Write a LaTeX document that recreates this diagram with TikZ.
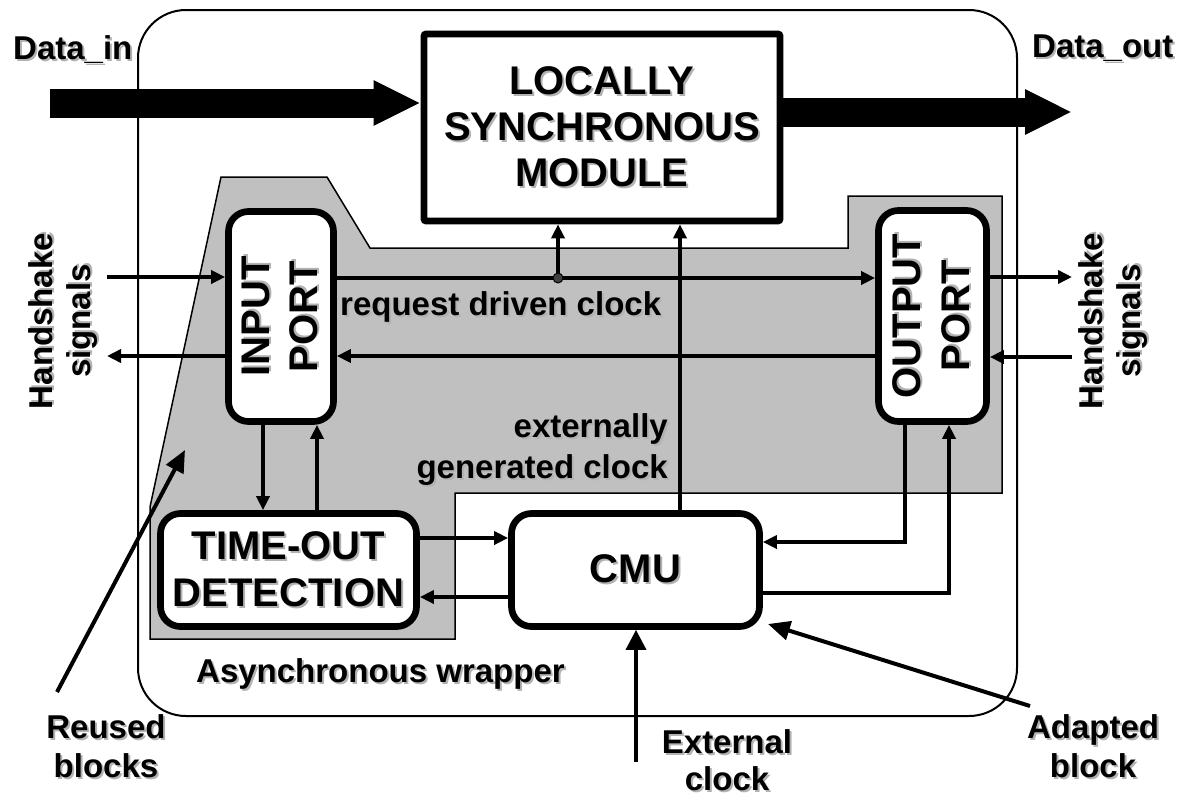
\documentclass[tikz,border=0pt]{standalone}
\usepackage{fontspec}
\setmainfont{Liberation Sans}
\usetikzlibrary{arrows.meta}
\definecolor{silver}{RGB}{192,192,192}
\newcommand\bigf{\fontsize{40}{46}\selectfont\bfseries}
\newcommand\labf{\fontsize{33}{39}\selectfont\bfseries}
\newcommand\shd[1]{\rlap{\kern2pt\raisebox{-2pt}{\textcolor{black!30}{#1}}}#1}
\newcommand\stkc[1]{\vbox{\halign{\hfil##\hfil\cr#1\crcr}}}
\newcommand\stkt[1]{\vtop{\halign{\hfil##\hfil\cr#1\crcr}}}
\newcommand\stkr[1]{\vtop{\halign{\hfil##\cr#1\crcr}}}
\begin{document}
\begin{tikzpicture}[x=1pt,y=-1pt,
  box/.style={draw, line width=6.7pt, fill=white, inner sep=0pt, font=\bigf},
  rbox/.style={box, rounded corners=20pt},
  conn/.style={line width=3.5pt, -{Triangle[length=14pt,width=13pt]}},
  conntip/.style={line width=3.5pt, -{Triangle[length=20pt,width=20pt]}},
  pointer/.style={line width=4pt, -{Triangle[length=22pt,width=19pt]}},
  bigarrow/.style={line width=29pt, -{Triangle[length=47pt,width=42pt]}},
  lbl/.style={font=\labf, inner sep=0pt},
]
\useasboundingbox (0,0) rectangle (1185,798);
% wrapper and gray region
\draw[line width=2pt, rounded corners=48pt] (138,10) rectangle (1017,716);
\filldraw[fill=silver, draw=black, line width=1.5pt]
  (221,177) -- (327,177) -- (370,248) -- (848,248) -- (848,196) -- (1002,196)
  -- (1002,493) -- (455,493) -- (455,639) -- (150,639) -- (150,507) -- cycle;

% blocks
\node[box, rounded corners=2pt, minimum width=356pt, minimum height=187pt] (lsm) at (602,127.5)
  {\stkc{\shd{LOCALLY}\cr\shd{SYNCHRONOUS}\cr\shd{MODULE}}};
\node[rbox, minimum width=105pt, minimum height=210pt] (ip) at (281,316.5)
  {\rotatebox{90}{\fontsize{40}{48}\selectfont\stkc{\shd{INPUT}\cr\shd{PORT}}}};
\node[rbox, minimum width=108pt, minimum height=211pt] (op) at (932.5,316)
  {\rotatebox{90}{\fontsize{40}{49}\selectfont\stkc{\shd{OUTPUT}\cr\shd{PORT}}}};
\node[rbox, minimum width=256pt, minimum height=113pt] (to) at (288.5,570)
  {\fontsize{40}{47}\selectfont\stkc{\shd{TIME-OUT}\cr\shd{DETECTION}}};
\node[rbox, minimum width=248pt, minimum height=113pt] (cmu) at (635.5,570)
  {\shd{CMU}};

% labels
\node[lbl, anchor=base west] (tdin) at (13,59) {\shd{Data\_in}};
\node[lbl, anchor=base west] (tdout) at (1032,57) {\shd{Data\_out}};
\node[lbl, anchor=base west] (trdc) at (340,315) {\shd{request driven clock}};
\node[lbl, anchor=base east] (tegc) at (668,437)
  {\fontsize{33}{41}\selectfont\stkr{\shd{externally}\cr\shd{generated clock}}};
\node[lbl, anchor=base west] (taw) at (196,682) {\shd{Asynchronous wrapper}};
\node[lbl, rotate=90, anchor=base] (hsl) at (52,321)
  {\fontsize{33}{38}\selectfont\stkt{\shd{Handshake}\cr\shd{signals}}};
\node[lbl, rotate=90, anchor=base] (hsr) at (1102,321)
  {\fontsize{33}{38}\selectfont\stkt{\shd{Handshake}\cr\shd{signals}}};
\node[lbl, anchor=base] (trb) at (106,738) {\stkt{\shd{Reused}\cr\shd{blocks}}};
\node[lbl, anchor=base] (tec) at (727,753)
  {\fontsize{33}{37}\selectfont\stkt{\shd{External}\cr\shd{clock}}};
\node[lbl, anchor=base] (tab) at (1093,738) {\stkt{\shd{Adapted}\cr\shd{block}}};

% coordinates for free ends
\coordinate (din) at (50,103);
\coordinate (dout) at (1072,112);
\coordinate (jn) at (558,278);
\coordinate (hl1) at (107,277);
\coordinate (hl2) at (107,356);
\coordinate (hr1) at (1072,277);
\coordinate (hr2) at (1072,357);
\coordinate (ext) at (636,762);
\coordinate (ru) at (57,692);
\coordinate (rutip) at (185,450);
\coordinate (ad) at (1030,706);
\coordinate (adtip) at (768,624);

% data arrows
\draw[bigarrow] (din) -- (din -| lsm.west);
\draw[bigarrow] (lsm.east |- dout) -- (dout);

% request driven clock
\draw[conn] (ip.east |- jn) -- (op.west |- jn);
\draw[conn] (jn) -- (jn |- lsm.south);
\filldraw[fill=black!75, draw=black, line width=1pt] (jn) circle (5pt);
\draw[conn] (op.west |- 0,356) -- (ip.east |- 0,356);

% handshake
\draw[conn] (hl1) -- (hl1 -| ip.west);
\draw[conn] (hl2 -| ip.west) -- (hl2);
\draw[conn] (hr1 -| op.east) -- (hr1);
\draw[conn] (hr2) -- (hr2 -| op.east);

% input port <-> time-out
\draw[conn] (ip.south -| 263,0) -- (to.north -| 263,0);
\draw[conn] (to.north -| 317,0) -- (ip.south -| 317,0);

% time-out <-> CMU
\draw[conn] (to.east |- 0,538) -- (cmu.west |- 0,538);
\draw[conn] (cmu.west |- 0,597) -- (to.east |- 0,597);

% output port <-> CMU
\draw[conn] (op.south -| 905,0) |- (cmu.east |- 0,542);
\draw[conn] (cmu.east |- 0,593) -| (op.south -| 949,0);

% CMU -> LSM
\draw[conn] (cmu.north -| 680,0) -- (lsm.south -| 680,0);

% external clock
\draw[conntip] (ext) -- (ext |- cmu.south);

% pointers
\draw[pointer] (ru) -- (rutip);
\draw[pointer] (ad) -- (adtip);
\end{tikzpicture}
\end{document}
